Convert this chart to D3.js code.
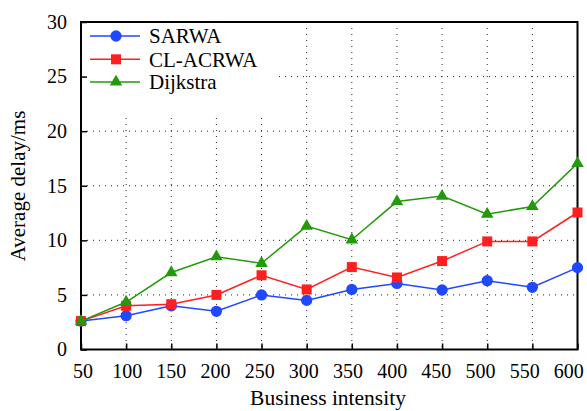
<!DOCTYPE html>
<html>
<head>
<meta charset="utf-8">
<script src="https://cdn.jsdelivr.net/npm/d3@7/dist/d3.min.js"></script>
<style>
html,body{margin:0;padding:0;background:#fff;}
svg{display:block;font-family:"Liberation Serif","Times New Roman",serif;}
</style>
</head>
<body>
<svg id="chart" width="587" height="411"></svg>
<script>
const categories = [50,100,150,200,250,300,350,400,450,500,550,600];
const sarwa    = [2.6,3.1,4.0,3.5,5.0,4.5,5.5,6.05,5.45,6.3,5.7,7.5];
const clAcrwa  = [2.6,4.0,4.15,5.0,6.8,5.5,7.55,6.6,8.1,9.9,9.9,12.55];
const dijkstra = [2.6,4.35,7.05,8.5,7.9,11.3,10.05,13.55,14.05,12.4,13.1,17.05];
const yTicks = [0,5,10,15,20,25,30];
const seriesNames = ["SARWA","CL-ACRWA","Dijkstra"];
const seriesColors = ["#1f48ff","#ff1f1f","#239a0c"];
const seriesShapes = ["circle","square","triangle"];

const series = [sarwa, clAcrwa, dijkstra].map((v,i)=>({name:seriesNames[i],color:seriesColors[i],shape:seriesShapes[i],values:v}));

const svg = d3.select("#chart");
const m = {left:81, right:577.5, top:22, bottom:349.5};

const x = d3.scaleLinear().domain([50,600]).range([m.left,m.right]);
const xLab = d3.scaleLinear().domain([50,600]).range([82.5,568.3]);
const y = d3.scaleLinear().domain([0,30]).range([m.bottom,m.top]);

// grid
const grid = svg.append("g").attr("stroke","#222").attr("stroke-width",1).attr("stroke-dasharray","1,5");
grid.selectAll("line.v").data(categories.slice(1,-1)).enter().append("line")
  .attr("x1",d=>x(d)).attr("x2",d=>x(d)).attr("y1",m.top).attr("y2",m.bottom);
grid.selectAll("line.h").data(yTicks.slice(1,-1)).enter().append("line")
  .attr("y1",d=>y(d)).attr("y2",d=>y(d)).attr("x1",m.left).attr("x2",m.right);

// legend background covering grid
svg.append("rect").attr("x",m.left+1).attr("y",m.top+1).attr("width",197).attr("height",92).attr("fill","#fff");

// axes
const xAxis = d3.axisBottom(x).tickValues(categories).tickSize(-6).tickPadding(14).tickFormat(d3.format("d"));
const yAxis = d3.axisLeft(y).tickValues(yTicks).tickSize(-6).tickPadding(14).tickFormat(d3.format("d"));
const gx = svg.append("g").attr("transform",`translate(0,${m.bottom})`).call(xAxis);
const gy = svg.append("g").attr("transform",`translate(${m.left},0)`).call(yAxis);
[gx,gy].forEach(g=>{
  g.select(".domain").remove();
  g.selectAll(".tick line").attr("stroke","#000").attr("stroke-width",1.5);
  g.selectAll(".tick text").attr("fill","#000").attr("font-size",20).attr("font-family","Liberation Serif");
});
gx.selectAll(".tick text").attr("dy",0).attr("y",28.5).attr("x",d=>xLab(d)-x(d));

// frame
svg.append("rect").attr("x",m.left).attr("y",m.top).attr("width",m.right-m.left).attr("height",m.bottom-m.top)
  .attr("fill","none").attr("stroke","#000").attr("stroke-width",2);

// lines
const line = d3.line().x((d,i)=>x(categories[i])).y(d=>y(d));
const sym = {circle:d3.symbolCircle, square:d3.symbolSquare, triangle:d3.symbolTriangle};
const symSize = {circle:100, square:100, triangle:68};
function drawMarker(g, s, cx, cy){
  g.append("path").attr("d",d3.symbol().type(sym[s.shape]).size(symSize[s.shape])())
   .attr("transform",`translate(${cx},${cy})`).attr("fill",s.color);
}
series.forEach(s=>{
  svg.append("path").datum(s.values).attr("d",line).attr("fill","none").attr("stroke",s.color).attr("stroke-width",1.5);
});
series.forEach(s=>{
  const g = svg.append("g");
  s.values.forEach((v,i)=>drawMarker(g,s,x(categories[i]),y(v)));
});

// legend
const legendRows = [36,59.3,82];
series.forEach((s,i)=>{
  const g = svg.append("g");
  g.append("line").attr("x1",90).attr("x2",140).attr("y1",legendRows[i]).attr("y2",legendRows[i]).attr("stroke",s.color).attr("stroke-width",1.5);
  drawMarker(g,s,116,legendRows[i]);
  g.append("text").attr("x",149).attr("y",legendRows[i]).attr("dy","0.35em").attr("font-size",21).text(s.name);
});

// axis titles
svg.append("text").attr("x",328).attr("y",405).attr("text-anchor","middle").attr("font-size",21.5).text("Business intensity");
svg.append("text").attr("transform",`translate(25,186) rotate(-90)`).attr("text-anchor","middle").attr("font-size",21).text("Average delay/ms");
</script>
</body>
</html>
